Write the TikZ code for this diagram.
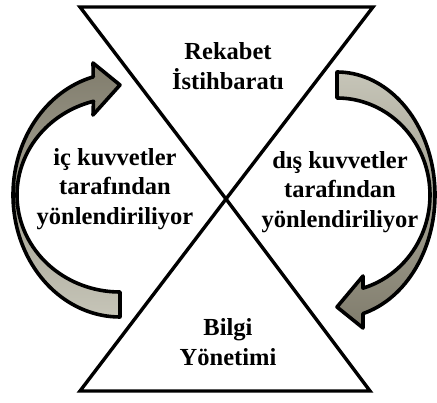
\documentclass[tikz,border=0pt]{standalone}
\usepackage{fontspec}
\setmainfont{Liberation Serif}
\definecolor{adark}{RGB}{128,124,108}
\definecolor{alight}{RGB}{198,197,184}
\begin{document}
\begin{tikzpicture}[x=1pt,y=-1pt,
  tri/.style={draw=black,line width=3.4pt,line join=miter,fill=white},
  curvarrow/.style={draw=black,line width=3.6pt,line join=round},
  lbl/.style={inner sep=0pt,align=center,font=\fontsize{24.5}{29.5}\selectfont\bfseries}]
\useasboundingbox (0,0) rectangle (437,403);
% triangles
\draw[tri] (80,7) coordinate (tl) -- (373,7) coordinate (tr) -- (226,199) coordinate (mid) -- cycle;
\draw[tri] (mid) -- (370,391) coordinate (br) -- (80,391) coordinate (bl) -- cycle;
% left curved arrow (up, pointing right)
\draw[curvarrow,top color=adark,bottom color=alight]
  plot[domain=90:255.5,samples=70] ({120+107*cos(\x)},{195+122*sin(\x)})
  -- (93,63) -- (120,85) coordinate (ltip) -- (93,115)
  -- plot[domain=255.07:90,samples=70] ({120+103*cos(\x)},{195+97*sin(\x)}) -- cycle;
% right curved arrow (down, pointing left)
\draw[curvarrow,top color=alight,bottom color=adark]
  plot[domain=-90:74.6,samples=70] ({337+98*cos(\x)},{195+123*sin(\x)})
  -- (363,328) -- (337,307) coordinate (rtip) -- (363,276)
  -- plot[domain=73.8:-90,samples=70] ({337+93*cos(\x)},{195+97*sin(\x)}) -- cycle;
% labels
\node[lbl] (top) at (228,66) {Rekabet\\İstihbaratı};
\node[lbl] (bottom) at (228,342) {Bilgi\\Yönetimi};
\node[lbl] (left) at (115,189) {iç kuvvetler\\tarafından\\yönlendiriliyor};
\node[lbl] (right) at (340,192) {dış kuvvetler\\tarafından\\yönlendiriliyor};
\end{tikzpicture}
\end{document}
